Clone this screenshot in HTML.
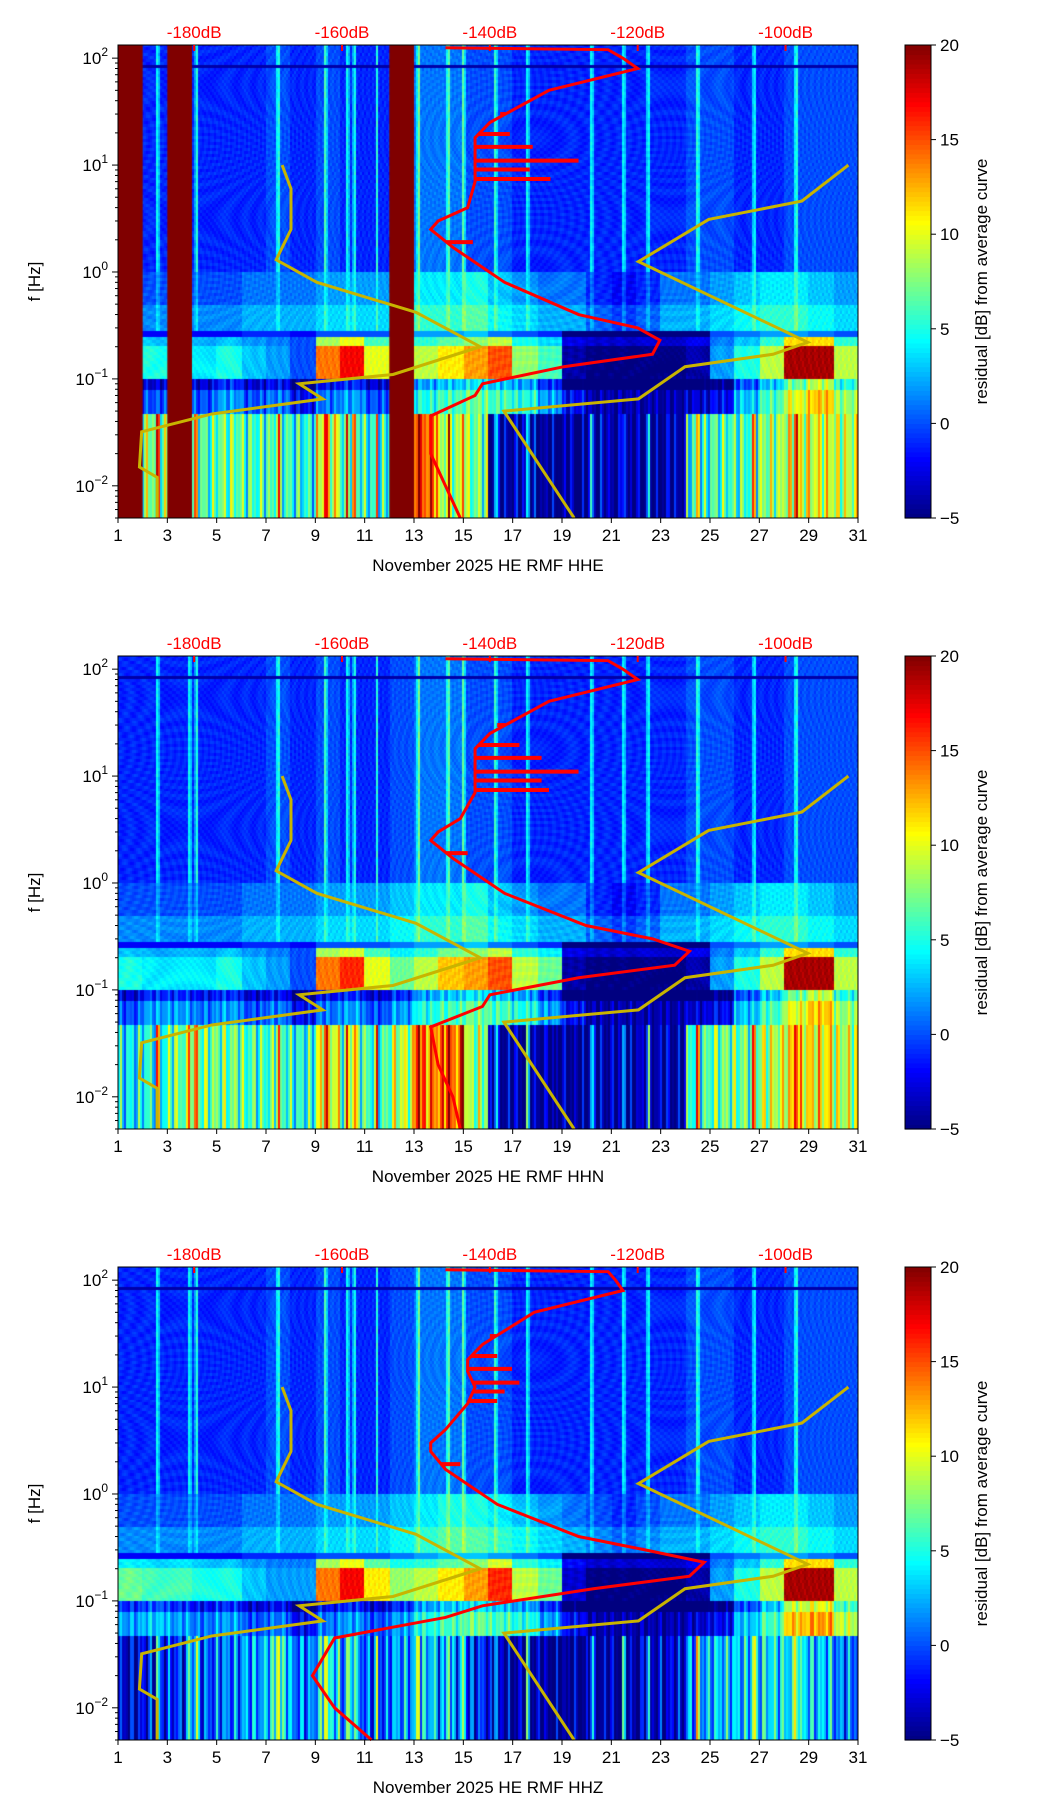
<!DOCTYPE html>
<html><head><meta charset="utf-8">
<style>
body{margin:0;background:#fff;width:1052px;height:1806px;overflow:hidden;font-family:"Liberation Sans",sans-serif;position:relative}
svg{position:absolute;left:0;top:0;z-index:2}
canvas{position:absolute;z-index:1}
</style></head>
<body>
<svg id="svg" width="1052" height="1806"></svg>
<script>
// ---- data ----
const panelTitles = ["November 2025 HE RMF  HHE","November 2025 HE RMF  HHN","November 2025 HE RMF  HHZ"];
const xTicks = [1,3,5,7,9,11,13,15,17,19,21,23,25,27,29,31];
const yTickExp = [-2,-1,0,1,2];
const dbTicks = [-180,-160,-140,-120,-100];
const cbTicks = [20,15,10,5,0,-5];
const masks = [[[1,2],[3,4],[12,13]],[],[]];
const lfLevels = [
 [6,8,6,6,7,6,6,5,10,6,5,8,15,8,7,-4,-4,-5,-5,-4,-5,-5,-4,5,6,6,8,10,10,9],
 [4,5,7,7,7,6,6,5,10,7,6,9,14,14,8,-4,-4,-5,-5,-4,-5,-4,-4,6,7,7,9,11,11,9],
 [-3,-2,-1,0,1,2,4,1,4,1,0,2,3,1,-1,-4,-4,-5,-5,-4,-4,-4,-3,2,3,3,4,4,3,1]];
const band2Levels = [
 [0,0,0,0,2,0,1,-2,1,2,0,2,5,6,7,6,5,2,-2,-4,-4,-4,-4,-3,-2,3,6,10,12,8],
 [0,2,2,1,2,0,1,-2,1,2,0,2,5,6,7,6,5,2,-2,-4,-4,-4,-4,-3,-2,3,6,10,12,8],
 [2,3,2,1,2,0,1,-2,1,2,0,2,5,6,7,6,5,2,-2,-4,-4,-4,-4,-3,-2,3,6,12,13,9]];
const msLevels = [
 [5,5,5,4,5,3,2,0,14,17,10,8,9,11,13,15,8,6,-4,-5,-5,-5,-5,-4,2,5,9,19,19,9],
 [5,4,4,4,5,3,2,0,14,16,10,7,9,12,13,15,9,7,-4,-5,-5,-5,-5,-4,2,5,9,19,19,9],
 [7,6,6,5,5,3,2,2,14,17,11,8,9,11,13,16,9,7,-3,-5,-5,-5,-5,-4,2,5,9,19,19,9]];
const midLevels = [
 [0,0,0,0,0,1,1,1,2,2,2,3,4,4,5,3,2,1,1,-1,-2,-1,1,1,2,3,4,4,3,2],
 [0,0,0,0,0,1,1,1,2,2,2,3,4,4,5,3,2,1,1,-1,-2,-1,1,1,2,3,4,4,3,2],
 [0,0,0,0,0,1,1,1,2,2,2,3,4,5,5,4,3,2,1,0,-1,0,1,1,2,3,4,4,3,2]];
const hfLevels = [
 [-1,-1,-1,-1,-1,-1,0,-1,0,-1,-1,0,1,1,0,0,-1,-1,-1,-1,-1,-1,-1,0,0,-1,-1,0,0,0],
 [-1,-1,-1,-1,-1,-1,0,-1,0,-1,-1,0,1,1,0,0,-1,-1,-1,-1,-1,-1,-1,0,0,-1,-1,0,0,0],
 [-1,-1,-1,-1,-1,-1,0,-1,0,-1,-1,0,1,1,0,0,-1,-1,-1,-1,-1,-1,-1,0,0,-1,-1,0,0,0]];
const stripeDays = [2.6,3.9,4.2,7.5,9.4,10.3,10.6,11.5,13.2,14.4,15.0,16.3,17.6,20.2,21.5,22.5,24.5,26.8,28.5];
// red PSD curve: dB values at frequencies
const redFreq = [125,120,100,80,50,25,18,14,10,7,4,3,2.5,1.7,0.8,0.4,0.3,0.23,0.17,0.13,0.09,0.07,0.045,0.02,0.01,0.005];
const redDb = [
 [-146,-124,-122,-120,-132,-140,-142,-142,-142,-142,-143,-147,-148,-145,-138,-128,-120,-117,-118,-130,-141,-142,-148,-148,-146,-144],
 [-146,-124,-122,-120,-132,-140,-142,-142,-142,-142,-144,-147,-148,-145,-138,-127,-118,-113,-115,-128,-140,-141,-148,-147,-145,-144],
 [-146,-124,-123,-122,-134,-141,-143,-143,-142,-143,-146,-148,-148,-146,-139,-128,-119,-111,-113,-126,-141,-146,-161,-164,-161,-156]];
// horizontal spikes on the red curve
const spikeF = [30,19.5,14.8,11,9.1,7.4,1.9];
const spikeDb = [
 [-138.6,-137.3,-134.2,-128,-134.6,-131.8,-142.3],
 [-139,-136,-133,-128,-133,-132,-143],
 [-140,-139,-137,-136,-138,-139,-144]];
// yellow reference curves (dB, Hz)
const yLowDb = [-168.1,-166.9,-166.9,-168.9,-163.4,-150,-141.3,-153.1,-165.8,-162.6,-177.6,-187.1,-187.4,-185,-185];
const yLowF = [10,6,2.5,1.3,0.8,0.42,0.2,0.11,0.09,0.065,0.047,0.032,0.015,0.012,0.005];
const yHighDb = [-128.6,-138.1,-119.9,-113.6,-101.7,-97,-119.9,-110.4,-97.8,-91.5];
const yHighF = [0.005,0.05,0.065,0.13,0.17,0.22,1.25,3.1,4.6,10];

// ---- layout ----
const L=118,W=740,H=473,tops=[45,656,1267],CBX=905,CBW=26;
const fMin=Math.log10(0.005),fMax=2.123;
const xDay=d=>L+(d-1)/30*W;
const xDb=db=>L+(db+190.3)/100.1*W;
const yF=(T,f)=>T+H-(Math.log10(f)-fMin)/(fMax-fMin)*H;
function jet(v){let t=(v+5)/25;t=Math.max(0,Math.min(1,t));
 const c=x=>Math.round(255*Math.max(0,Math.min(1,1.5-Math.abs(4*t-x))));
 return `rgb(${c(3)},${c(2)},${c(1)})`;}
function redAt(p,f){const lf=Math.log10(f);for(let i=0;i<redFreq.length-1;i++){const a=Math.log10(redFreq[i]),b=Math.log10(redFreq[i+1]);if(lf<=a&&lf>=b){const t=(a-lf)/(a-b);return redDb[p][i]+t*(redDb[p][i+1]-redDb[p][i]);}}return redDb[p][0];}
const NS="http://www.w3.org/2000/svg",svg=document.getElementById('svg');
function el(tag,attrs,txt){const e=document.createElementNS(NS,tag);for(const k in attrs)e.setAttribute(k,attrs[k]);if(txt!==undefined)e.textContent=txt;svg.appendChild(e);return e;}

tops.forEach((T,p)=>{
 const cv=document.createElement('canvas');cv.width=W;cv.height=H;cv.style.left=L+'px';cv.style.top=T+'px';
 
 
 document.body.appendChild(cv);const g=cv.getContext('2d');
 const cols=370,rows=160;
 for(let i=0;i<cols;i++){const day=1+(i+0.5)/cols*30;const di=Math.min(29,Math.floor(day-1));
  let stripe=0;stripeDays.forEach(s=>{const d=Math.abs(day-s);if(d<0.08)stripe=Math.max(stripe,9-d*60);});
  const tex=2.5*Math.sin(i*1.7)*Math.sin(i*0.37+p);
  for(let j=0;j<rows;j++){const lf=fMax-(j+0.5)/rows*(fMax-fMin);let v;
   const tex2=0.8*Math.sin(i*i*0.013+j*1.9)*Math.cos(j*j*0.07+i*0.9);
   if(lf>0){v=hfLevels[p][di]+stripe*0.7+tex2;if(Math.abs(lf-1.92)<0.012)v=-4;if(Math.abs(lf-1.05)<0.008)v+=4;}
   else if(lf>-0.55)v=midLevels[p][di]+(lf<-0.3?1.5:0)+stripe*0.3+tex2;
   else if(lf>-0.62)v=Math.min(midLevels[p][di],msLevels[p][di])-2;
   else if(lf>-1.0)v=msLevels[p][di]*(lf>-0.7?0.6:1)+tex2;
   else if(lf>-1.12)v=Math.min(msLevels[p][di],band2Levels[p][di])-3+tex;
   else if(lf>-1.32)v=band2Levels[p][di]+tex;
   else v=lfLevels[p][di]+stripe+2*tex;
   g.fillStyle=jet(v);g.fillRect(Math.floor(i*W/cols),Math.floor(j*H/rows),Math.ceil(W/cols)+1,Math.ceil(H/rows)+1);}}
 masks[p].forEach(m=>{g.fillStyle=jet(20);g.fillRect((m[0]-1)/30*W,0,(m[1]-m[0])/30*W,H);});
 // curves
 const yl=el('polyline',{points:yLowDb.map((d,i)=>xDb(d)+','+yF(T,yLowF[i])).join(' '),fill:'none',stroke:'#c8b400','stroke-width':3});
 
 const yh=el('polyline',{points:yHighDb.map((d,i)=>xDb(d)+','+yF(T,yHighF[i])).join(' '),fill:'none',stroke:'#c8b400','stroke-width':3});
 
 const rc=el('polyline',{points:redDb[p].map((d,i)=>xDb(d)+','+yF(T,redFreq[i])).join(' '),fill:'none',stroke:'#ff0000','stroke-width':3});
 
 spikeF.forEach((f,i)=>{const y=yF(T,f);const s=el('line',{x1:xDb(redAt(p,f)),x2:xDb(spikeDb[p][i]),y1:y,y2:y,stroke:'#ff0000','stroke-width':4});
  });
 const fr=el('rect',{x:L,y:T,width:W,height:H,fill:'none',stroke:'#000','stroke-width':1});
 
 xTicks.forEach(d=>{const x=xDay(d);el('line',{x1:x,x2:x,y1:T+H,y2:T+H+5,stroke:'#000'});
  const t=el('text',{x:x,y:T+H+23,'text-anchor':'middle','font-size':17},d);});
 yTickExp.forEach(e=>{const y=yF(T,Math.pow(10,e));el('line',{x1:L-6,x2:L,y1:y,y2:y,stroke:'#000'});
  for(let k=2;k<10;k++){const f=Math.pow(10,e-1)*k;const yy=yF(T,f);if(yy<=T+H&&yy>=T)el('line',{x1:L-3,x2:L,y1:yy,y2:yy,stroke:'#000'});}
  const t=el('text',{x:L-10,y:y+6,'text-anchor':'end','font-size':17});t.innerHTML='10<tspan dy="-8" font-size="12">'+(e<0?'−'+(-e):e)+'</tspan>';
  });
 dbTicks.forEach(d=>{const x=xDb(d);el('line',{x1:x,x2:x,y1:T,y2:T+6,stroke:'#f00','stroke-width':2});
  const t=el('text',{x:x,y:T-7,'text-anchor':'middle','font-size':17,fill:'#f00'},d+'dB');});
 const yt=el('text',{x:40,y:T+H/2,'text-anchor':'middle','font-size':17,transform:`rotate(-90 40 ${T+H/2})`},'f [Hz]');
 
 const xt=el('text',{x:L+W/2,y:T+H+53,'text-anchor':'middle','font-size':17},panelTitles[p]);
 
 // colorbar
 for(let k=0;k<100;k++){el('rect',{x:CBX,y:T+H-(k+1)*H/100,width:CBW,height:H/100+0.6,fill:jet(-5+(k+0.5)/4)});}
 const cbf=el('rect',{x:CBX,y:T,width:CBW,height:H,fill:'none',stroke:'#000'});
 cbTicks.forEach(v=>{const y=T+H-(v+5)/25*H;el('line',{x1:CBX+CBW,x2:CBX+CBW+5,y1:y,y2:y,stroke:'#000'});
  const t=el('text',{x:CBX+CBW+9,y:y+6,'font-size':17},v<0?'−'+(-v):v);});
 const ct=el('text',{x:987,y:T+H/2,'text-anchor':'middle','font-size':17,transform:`rotate(-90 987 ${T+H/2})`},'residual [dB] from average curve');
 
});
</script>
</body></html>
